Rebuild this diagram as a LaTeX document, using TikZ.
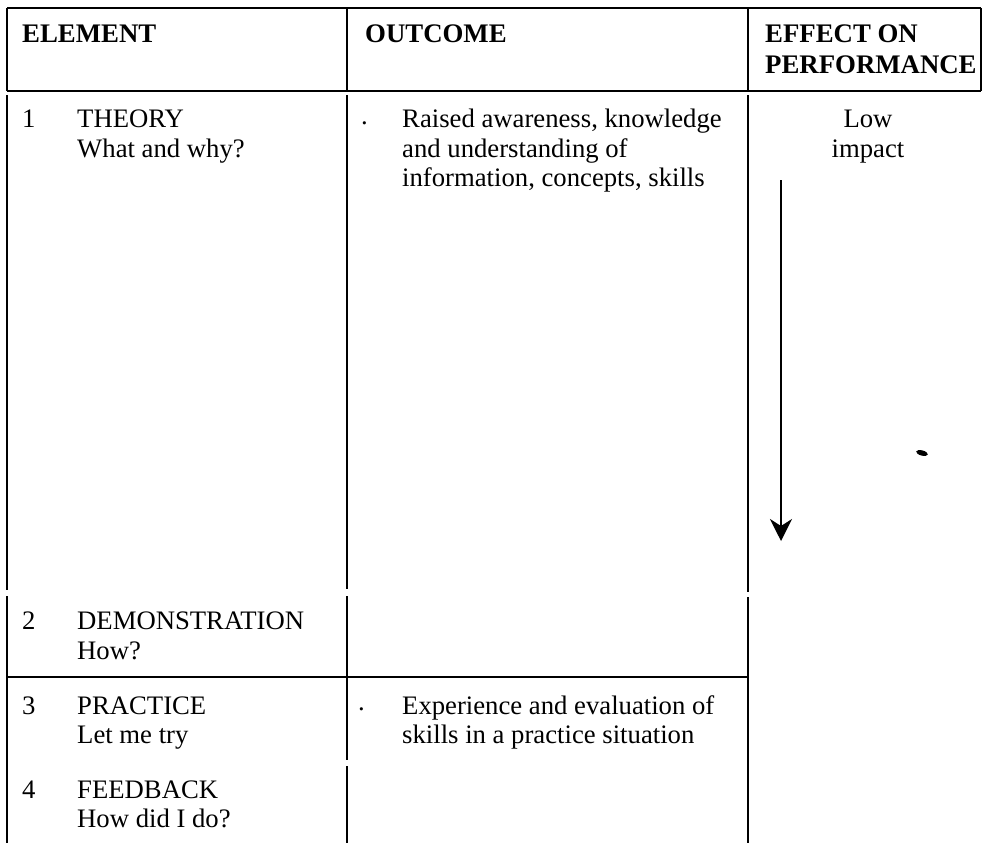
\documentclass[tikz,border=0pt]{standalone}
\usepackage{fontspec}
\setmainfont{Liberation Serif}
\usetikzlibrary{arrows.meta}
\begin{document}
\begin{tikzpicture}[x=1pt,y=-1pt,
  rule/.style={line width=1.8pt,line cap=butt},
  head/.style={anchor=base west,inner sep=0pt,font=\bfseries\fontsize{26.8}{31}\selectfont},
  txt/.style={anchor=base west,inner sep=0pt,font=\fontsize{26.7}{29.5}\selectfont},
  ctr/.style={anchor=base,inner sep=0pt,font=\fontsize{26.7}{29.5}\selectfont},
  flow/.style={line width=1.8pt,-{Stealth[length=22pt,width=22pt,inset=7pt]}}]
\useasboundingbox (0,0) rectangle (982,843);

% header frame
\draw[rule] (7,8) -- (981,8);
\draw[rule] (7,91) -- (981,91);
\foreach \cx in {7,347,748,981} \draw[rule] (\cx,8) -- (\cx,91);

% body column rules (broken where rows meet)
\draw[rule] (7,95) -- (7,590) (7,596) -- (7,843);
\draw[rule] (347,95) -- (347,589) (347,596) -- (347,760) (347,766) -- (347,843);
\draw[rule] (748,95) -- (748,592) (748,597) -- (748,843);
\draw[rule] (7,677) -- (748,677);

% header texts
\node[head] (hel) at (22,43) {ELEMENT};
\node[head] (hout) at (365,43) {OUTCOME};
\node[head] (heff1) at (765,43) {EFFECT ON};
\node[head] (heff2) at (765,74) {PERFORMANCE};

% element column
\node[txt] (n1) at (22,127.5) {1};
\node[txt] (e1a) at (77,127.5) {THEORY};
\node[txt] (e1b) at (77,157) {What and why?};
\node[txt] (n2) at (22,629) {2};
\node[txt] (e2a) at (77,629) {DEMONSTRATION};
\node[txt] (e2b) at (77,659) {How?};
\node[txt] (n3) at (22,714) {3};
\node[txt] (e3a) at (77,714) {PRACTICE};
\node[txt] (e3b) at (77,743) {Let me try};
\node[txt] (n4) at (22,798) {4};
\node[txt] (e4a) at (77,798) {FEEDBACK};
\node[txt] (e4b) at (77,827) {How did I do?};

% outcome column
\node[txt] (b1) at (361,127.5) {\raisebox{3.5pt}{.}};
\node[txt] (o1a) at (402,127.5) {Raised awareness, knowledge};
\node[txt] (o1b) at (402,157) {and understanding of};
\node[txt] (o1c) at (402,186.5) {information, concepts, skills};
\node[txt] (b3) at (358,714) {\raisebox{3.5pt}{.}};
\node[txt] (o3a) at (402,714) {Experience and evaluation of};
\node[txt] (o3b) at (402,743) {skills in a practice situation};

% effect column
\node[ctr] (low) at (868,127.5) {Low};
\node[ctr] (imp) at (868,157) {impact};
\coordinate (arrtop) at (781,180);
\coordinate (arrtip) at (781,541);
\draw[flow] (arrtop) -- (arrtip);

% ink speck
\fill[rotate around={-15:(922,453)}] (922,453) ellipse (6pt and 2.6pt);
\end{tikzpicture}
\end{document}
